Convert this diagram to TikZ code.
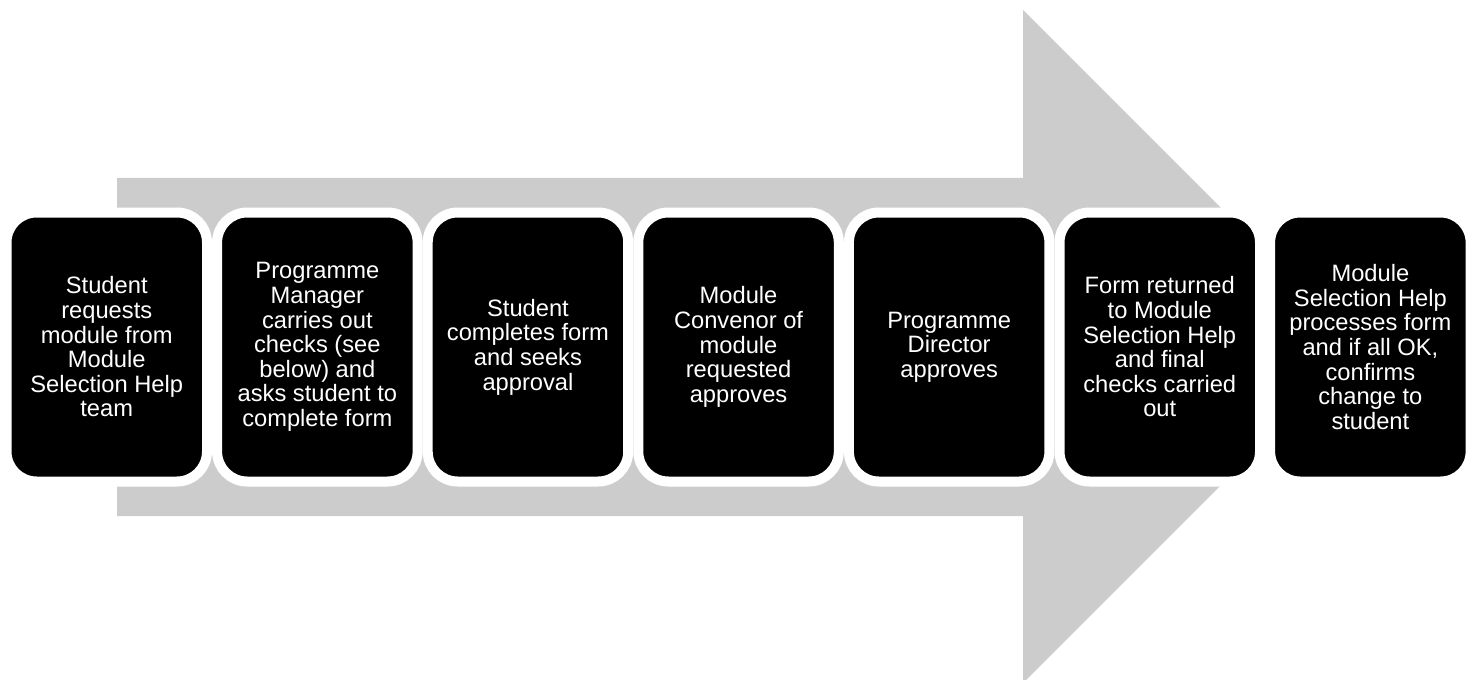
\documentclass[tikz,border=0pt]{standalone}
\usepackage{fontspec}
\setmainfont{Liberation Sans}
\definecolor{arrowgray}{HTML}{CCCCCC}
\tikzset{
  stepbox/.style={rectangle, fill=black, draw=white, line width=5pt,
    rounded corners=15pt, minimum width=100.25pt, minimum height=134.5pt,
    text=white, align=center, inner sep=0pt,
    font=\fontsize{11.85pt}{12.3pt}\selectfont},
}
\begin{document}
\begin{tikzpicture}[x=0.5pt,y=-0.5pt]
\useasboundingbox (0,0) rectangle (1475,679);
\fill[arrowgray] (117,178) -- (1023,178) -- (1023,10) -- (1359.5,346.5) -- (1023,683) -- (1023,516) -- (117,516) -- cycle;
\node[stepbox] (s1) at (106.75,347) {Student\\requests\\module from\\Module\\Selection Help\\team};
\node[stepbox] (s2) at (317.35,347) {Programme\\Manager\\carries out\\checks (see\\below) and\\asks student to\\complete form};
\node[stepbox] (s3) at (527.95,347) {Student\\completes form\\and seeks\\approval};
\node[stepbox] (s4) at (738.55,347) {Module\\Convenor of\\module\\requested\\approves};
\node[stepbox] (s5) at (949.15,347) {Programme\\Director\\approves};
\node[stepbox] (s6) at (1159.75,347) {Form returned\\to Module\\Selection Help\\and final\\checks carried\\out};
\node[stepbox] (s7) at (1370.35,347) {Module\\Selection Help\\processes form\\and if all OK,\\confirms\\change to\\student};
\end{tikzpicture}
\end{document}
